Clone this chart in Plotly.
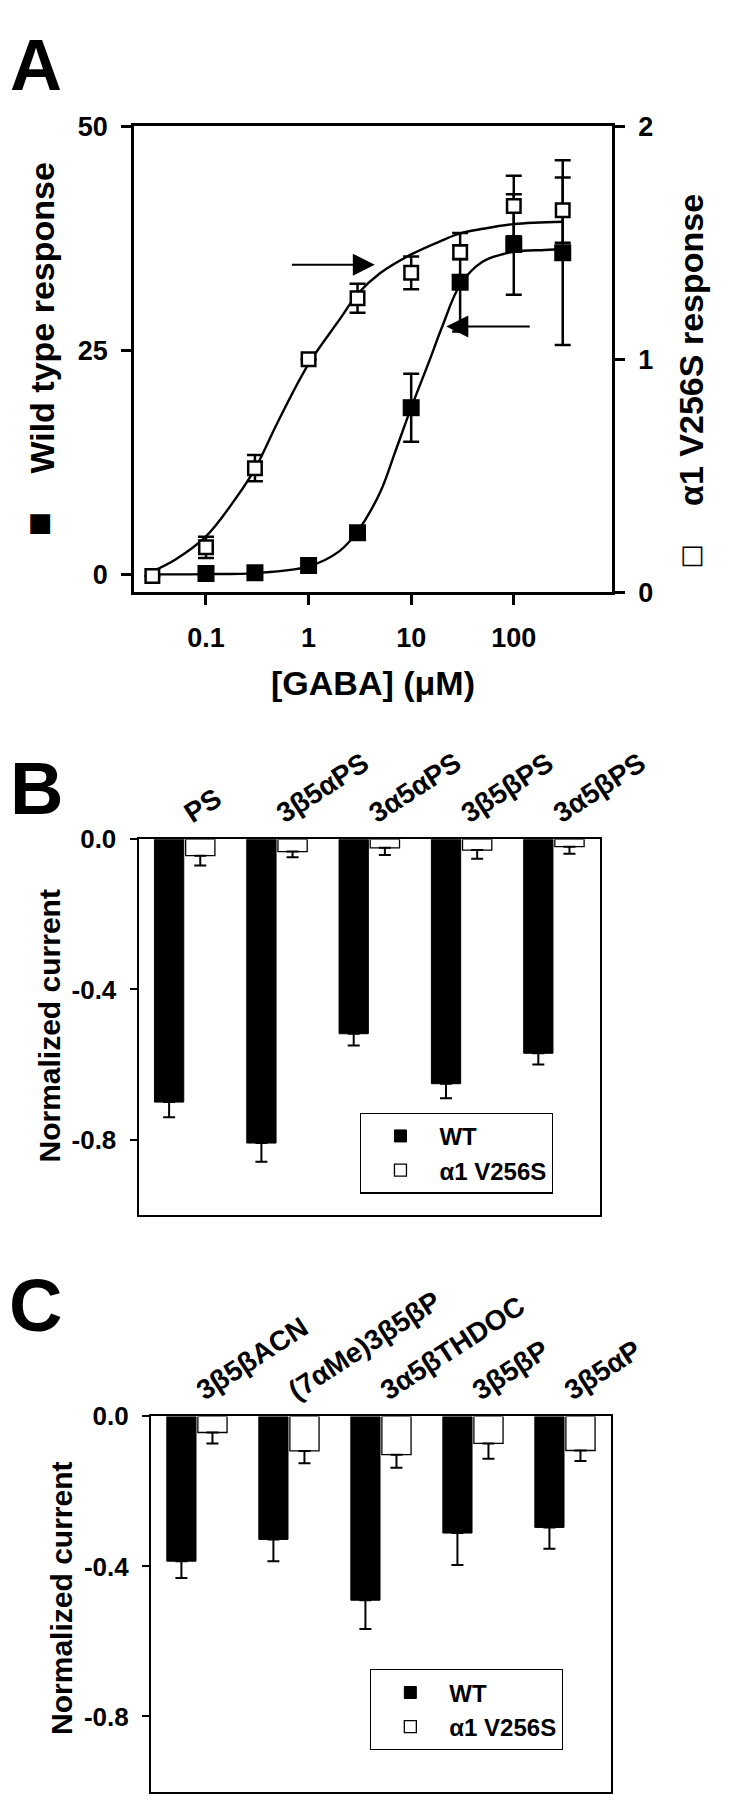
import math
import plotly.graph_objects as go

# ---------------- data: panel A (GABA concentration-response) ----------------
gaba_wt = [0.1, 0.3, 1, 3, 10, 30, 100, 300]
wt_resp = [0.1, 0.2, 1.0, 4.65, 18.6, 32.6, 36.8, 35.9]
wt_err = [0, 0, 0, 0, 3.8, 5.5, 5.6, 10.3]

gaba_mut = [0.03, 0.1, 0.3, 1, 3, 10, 30, 100, 300]
mut_resp = [0.07, 0.193, 0.533, 1.0, 1.262, 1.371, 1.459, 1.658, 1.64]
mut_err = [0, 0.046, 0.056, 0, 0.062, 0.07, 0.03, 0.13, 0.14]

fit_x_wt = [0.03, 0.1, 0.3, 1, 2, 3, 5, 7, 10, 15, 20, 30, 50, 100, 200, 300]
fit_wt = [0.0, 0.03, 0.15, 0.9, 2.6, 4.8, 9.2, 13.7, 18.6, 23.8, 27.6, 32.3, 34.9, 36.0, 36.2, 36.3]

fit_x_mut = [0.03, 0.05, 0.1, 0.2, 0.3, 0.5, 1, 2, 3, 5, 10, 20, 30, 50, 100, 300]
fit_mut = [0.09, 0.14, 0.24, 0.41, 0.53, 0.73, 0.98, 1.17, 1.28, 1.37, 1.45, 1.51, 1.54, 1.56, 1.58, 1.59]

# arrows: (tail GABA, head GABA, wild-type response level)
arrow_tail = [0.664, 148]
arrow_head = [4.42, 22.0]
arrow_level = [34.56, 27.65]

a_xticks = [0.1, 1, 10, 100]
a_xticktext = ["0.1", "1", "10", "100"]
a_yticks = [0, 25, 50]
a_y2ticks = [0, 1, 2]

# ---------------- data: panel B ----------------
cats_b = ["PS", "3β5αPS", "3α5αPS", "3β5βPS", "3α5βPS"]
wt_b = [-0.700, -0.809, -0.518, -0.651, -0.570]
wt_b_err = [0.040, 0.050, 0.031, 0.039, 0.030]
mut_b = [-0.044, -0.033, -0.023, -0.029, -0.020]
mut_b_err = [0.026, 0.015, 0.019, 0.023, 0.019]

# ---------------- data: panel C ----------------
cats_c = ["3β5βACN", "(7αMe)3β5βP", "3α5βTHDOC", "3β5βP", "3β5αP"]
wt_c = [-0.386, -0.328, -0.490, -0.311, -0.296]
wt_c_err = [0.045, 0.058, 0.077, 0.085, 0.057]
mut_c = [-0.043, -0.092, -0.102, -0.072, -0.091]
mut_c_err = [0.029, 0.033, 0.035, 0.041, 0.028]

bar_yticks = [0, -0.4, -0.8]
bar_yticktext = ["0.0", "-0.4", "-0.8"]

# ---------------- figure ----------------
W, H = 754, 1800
FONT = "Liberation Sans, Arial, sans-serif"


def px(x):
    return x / W


def py(y):
    return 1 - y / H


fig = go.Figure()

# panel A curves
fig.add_trace(go.Scatter(x=fit_x_wt, y=fit_wt, mode="lines", line=dict(color="black", width=2.4, shape="spline"),
                         xaxis="x", yaxis="y", showlegend=False, hoverinfo="skip"))
fig.add_trace(go.Scatter(x=fit_x_mut, y=fit_mut, mode="lines", line=dict(color="black", width=2.4, shape="spline"),
                         xaxis="x", yaxis="y2", showlegend=False, hoverinfo="skip"))
# panel A points
fig.add_trace(go.Scatter(x=gaba_wt, y=wt_resp, mode="markers", name="Wild type",
                         marker=dict(symbol="square", size=17, color="black", line=dict(width=0)),
                         error_y=dict(type="data", array=wt_err, visible=True, color="black", thickness=2.5, width=8),
                         xaxis="x", yaxis="y", showlegend=False))
fig.add_trace(go.Scatter(x=gaba_mut, y=mut_resp, mode="markers", name="α1 V256S",
                         marker=dict(symbol="square", size=13.5, color="white", line=dict(width=2.5, color="black")),
                         error_y=dict(type="data", array=mut_err, visible=True, color="black", thickness=2.5, width=8),
                         xaxis="x", yaxis="y2", showlegend=False))

# panel B bars
fig.add_trace(go.Bar(x=cats_b, y=wt_b, name="WT", xaxis="x2", yaxis="y3", legend="legend",
                     marker=dict(color="black", line=dict(color="black", width=1)),
                     error_y=dict(type="data", symmetric=False, array=[0] * len(wt_b), arrayminus=wt_b_err,
                                  color="black", thickness=2, width=6)))
fig.add_trace(go.Bar(x=cats_b, y=mut_b, name="α1 V256S", xaxis="x2", yaxis="y3", legend="legend",
                     marker=dict(color="white", line=dict(color="black", width=1.3)),
                     error_y=dict(type="data", symmetric=False, array=[0] * len(mut_b), arrayminus=mut_b_err,
                                  color="black", thickness=2, width=6)))
# panel C bars
fig.add_trace(go.Bar(x=cats_c, y=wt_c, name="WT", xaxis="x3", yaxis="y4", legend="legend2",
                     marker=dict(color="black", line=dict(color="black", width=1)),
                     error_y=dict(type="data", symmetric=False, array=[0] * len(wt_c), arrayminus=wt_c_err,
                                  color="black", thickness=2, width=6)))
fig.add_trace(go.Bar(x=cats_c, y=mut_c, name="α1 V256S", xaxis="x3", yaxis="y4", legend="legend2",
                     marker=dict(color="white", line=dict(color="black", width=1.3)),
                     error_y=dict(type="data", symmetric=False, array=[0] * len(mut_c), arrayminus=mut_c_err,
                                  color="black", thickness=2, width=6)))

tickA = dict(family=FONT, size=27, color="black", weight="bold")
tickBar = dict(family=FONT, size=26, color="black", weight="bold")
catf = dict(family=FONT, size=28, color="black", weight="bold")
legf = dict(family=FONT, size=24, color="black", weight="bold")
common = dict(showgrid=False, zeroline=False, linecolor="black", tickcolor="black")

fig.update_layout(
    width=W, height=H, margin=dict(l=0, r=0, t=0, b=0),
    paper_bgcolor="white", plot_bgcolor="white",
    font=dict(family=FONT, color="black"),
    barmode="group", bargap=0.325, bargroupgap=0.06,
    xaxis=dict(domain=[px(135), px(648)], type="log", range=[-1.703, 2.959], anchor="y",
               showline=True, linewidth=2.5, mirror=True, ticks="outside", ticklen=10, tickwidth=2.5,
               tickvals=a_xticks, ticktext=a_xticktext, tickfont=tickA, ticklabelstandoff=9, **common),
    yaxis=dict(domain=[py(579), py(105)], range=[-2.0, 50], anchor="x",
               showline=True, linewidth=2.5, ticks="outside", ticklen=10, tickwidth=2.5,
               tickvals=a_yticks, tickfont=tickA, ticklabelstandoff=8, **common),
    yaxis2=dict(overlaying="y", side="right", range=[0, 2], anchor="x",
                showline=True, linewidth=2.5, ticks="outside", ticklen=10, tickwidth=2.5,
                tickvals=a_y2ticks, tickfont=tickA, ticklabelstandoff=8, **common),
    xaxis2=dict(domain=[px(140), px(635)], anchor="y3", side="top", type="category",
                showline=True, linewidth=2, mirror=True, ticks="", tickangle=-33,
                tickfont=catf, **common),
    yaxis3=dict(domain=[py(1212), py(830)], anchor="x2", range=[-1.0, 0],
                showline=True, linewidth=2, mirror=True, ticks="outside", ticklen=7, tickwidth=2,
                tickvals=bar_yticks, ticktext=bar_yticktext, tickfont=tickBar,
                ticklabelstandoff=8, **common),
    xaxis3=dict(domain=[px(153.3), px(646.7)], anchor="y4", side="top", type="category",
                showline=True, linewidth=2, mirror=True, ticks="", tickangle=-33,
                tickfont=catf, **common),
    yaxis4=dict(domain=[py(1798.5), py(1417)], anchor="x3", range=[-1.0, 0],
                showline=True, linewidth=2, mirror=True, ticks="outside", ticklen=7, tickwidth=2,
                tickvals=bar_yticks, ticktext=bar_yticktext, tickfont=tickBar,
                ticklabelstandoff=8, **common),
    legend=dict(x=px(377.7), y=py(1108), xanchor="left", yanchor="top", bgcolor="white",
                bordercolor="black", borderwidth=1.3, font=legf, itemwidth=68),
    legend2=dict(x=px(388.3), y=py(1674), xanchor="left", yanchor="top", bgcolor="white",
                 bordercolor="black", borderwidth=1.3, font=legf, itemwidth=68),
)

ann = []


def label(text, x, y, size, angle=0, family=FONT, yanchor="middle"):
    ann.append(dict(text=text, x=px(x), y=py(y), xref="paper", yref="paper", showarrow=False,
                    xanchor="center", yanchor=yanchor, textangle=angle,
                    font=dict(family=family, size=size, color="black", weight="bold")))


label("A", 30, 0, 72, yanchor="top")
label("B", 31, 778.5, 74)
label("C", 30, 1304.5, 74)
label("[GABA] (μM)", 391.5, 671, 34)
label("Wild type response", 36, 300, 34, angle=-90)
label("α1 V256S response", 733, 332, 34, angle=-90)
label("■", 35, 507, 26, family="DejaVu Sans")
label("□", 734, 540, 26, family="DejaVu Sans")
label("Normalized current", 44, 1020.5, 30, angle=-90)
label("Normalized current", 57.5, 1602, 30, angle=-90)

for t, h, lv in zip(arrow_tail, arrow_head, arrow_level):
    ann.append(dict(text="", x=math.log10(h), y=lv, ax=math.log10(t), ay=lv,
                    xref="x", yref="y", axref="x", ayref="y", showarrow=True,
                    arrowhead=2, arrowsize=2.2, arrowwidth=2, arrowcolor="black", standoff=0))

fig.update_layout(annotations=ann)

fig.write_html("out.html", config={"displayModeBar": False})
